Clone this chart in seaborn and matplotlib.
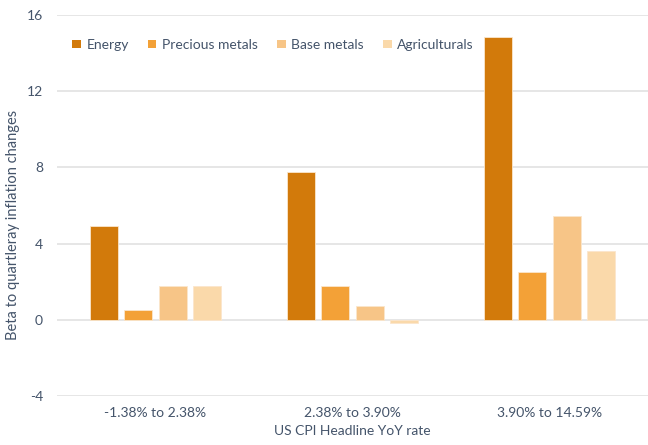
import matplotlib
matplotlib.use("Agg")
import matplotlib.pyplot as plt
import seaborn as sns
import pandas as pd

categories = ["-1.38% to 2.38%", "2.38% to 3.90%", "3.90% to 14.59%"]
series_names = ["Energy", "Precious metals", "Base metals", "Agriculturals"]
energy = [4.9, 7.75, 14.85]
precious = [0.5, 1.75, 2.5]
base = [1.75, 0.7, 5.45]
agri = [1.8, -0.15, 3.6]
colors = ["#D27A0B", "#F3A137", "#F7C587", "#FAD9AA"]
yticks = [-4, 0, 4, 8, 12, 16]

rows = []
for name, vals in zip(series_names, [energy, precious, base, agri]):
    for c, v in zip(categories, vals):
        rows.append({"cat": c, "series": name, "value": v})
df = pd.DataFrame(rows)

sns.set_theme(style="white")
plt.rcParams['font.family'] = ['Lato', 'DejaVu Sans']
text_color = "#44546A"

fig = plt.figure(figsize=(6.48, 4.45), dpi=100)
ax = fig.add_axes([57/648, 1 - 396/445, 1 - 57/648, (396 - 15)/445])

sns.barplot(data=df, x="cat", y="value", hue="series", order=categories,
            hue_order=series_names, palette=colors, width=0.7, gap=0.2,
            edgecolor="#FBE6CC", linewidth=0.6, ax=ax, saturation=1)

ax.set_ylim(-4, 16)
ax.set_xlim(-0.5, 2.5)
ax.set_yticks(yticks)
ax.set_yticklabels([str(t) for t in yticks], color=text_color, fontsize=10)
ax.tick_params(axis="x", colors=text_color, labelsize=10, length=0, pad=8)
ax.tick_params(axis="y", length=0, pad=10)
ax.yaxis.grid(True, color="#E2E2E2", linewidth=1.2)
ax.set_axisbelow(True)
for s in ax.spines.values():
    s.set_visible(False)
ax.set_xlabel("US CPI Headline YoY rate", color=text_color, fontsize=10, labelpad=4)
ax.set_ylabel("Beta to quartleray inflation changes", color=text_color, fontsize=10.5)
ax.yaxis.set_label_coords(-0.062, 0.449)

leg = ax.legend(loc="upper left", bbox_to_anchor=(0.005, 0.97), ncol=4, frameon=False,
                fontsize=10, handlelength=0.6, handleheight=0.6, handletextpad=0.4,
                columnspacing=1.4)
for t in leg.get_texts():
    t.set_color(text_color)
for h in leg.legend_handles:
    h.set_edgecolor("none")

fig.savefig("out.png", dpi=100, facecolor="white")
